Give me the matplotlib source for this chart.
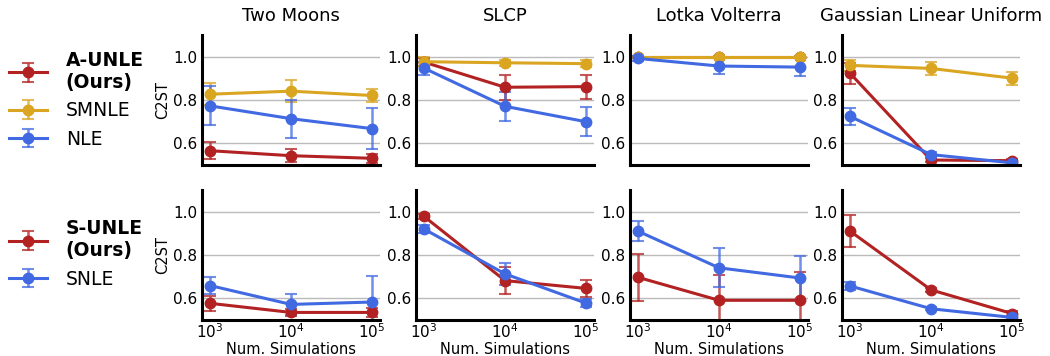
import numpy as np
import matplotlib
matplotlib.use("Agg")
import matplotlib.pyplot as plt

sims = [1e3, 1e4, 1e5]
tasks = ["Two Moons", "SLCP", "Lotka Volterra", "Gaussian Linear Uniform"]

# top row: amortized methods (mean, err) per task
aunle_mean = [[0.566, 0.543, 0.531], [0.975, 0.859, 0.862], [1.0, 1.0, 1.0], [0.923, 0.523, 0.520]]
aunle_err = [[0.04, 0.03, 0.02], [0.02, 0.058, 0.055], [0.005, 0.005, 0.005], [0.05, 0.01, 0.01]]
smnle_mean = [[0.827, 0.841, 0.821], [0.977, 0.972, 0.968], [1.0, 1.0, 1.0], [0.960, 0.946, 0.901]]
smnle_err = [[0.05, 0.05, 0.03], [0.02, 0.015, 0.015], [0.005, 0.005, 0.005], [0.025, 0.03, 0.03]]
nle_mean = [[0.773, 0.714, 0.668], [0.947, 0.771, 0.700], [0.992, 0.957, 0.952], [0.724, 0.548, 0.510]]
nle_err = [[0.09, 0.087, 0.094], [0.03, 0.068, 0.068], [0.01, 0.035, 0.04], [0.04, 0.012, 0.008]]

# bottom row: sequential methods
sunle_mean = [[0.577, 0.535, 0.535], [0.978, 0.682, 0.646], [0.697, 0.591, 0.591], [0.910, 0.639, 0.530]]
sunle_err = [[0.035, 0.015, 0.02], [0.01, 0.062, 0.04], [0.11, 0.116, 0.13], [0.075, 0.01, 0.01]]
snle_mean = [[0.659, 0.572, 0.583], [0.920, 0.713, 0.578], [0.910, 0.741, 0.694], [0.657, 0.552, 0.512]]
snle_err = [[0.04, 0.05, 0.12], [0.02, 0.05, 0.02], [0.045, 0.09, 0.1], [0.02, 0.006, 0.006]]

RED = "#b22222"
GOLD = "#daa520"
BLUE = "#4169e1"

fig = plt.figure(figsize=(10.5, 3.56), dpi=100)

lefts = [0.1924, 0.3962, 0.6, 0.802]
w, h = 0.1695, 0.365
bottoms = [0.5365, 0.1011]


def draw(ax, mean, err, color, label):
    return ax.errorbar(sims, mean, yerr=err, color=color, lw=2.2, marker="o",
                       markersize=7.5, capsize=4, elinewidth=1.8, capthick=1.5,
                       ecolor=matplotlib.colors.to_rgba(color, 0.75), label=label)


def style(ax, bottom_row, first_col):
    ax.set_xscale("log")
    ax.set_xlim(10 ** 2.9, 10 ** 5.1)
    ax.set_ylim(0.5, 1.1)
    ax.set_yticks([0.6, 0.8, 1.0])
    ax.set_yticklabels(["0.6", "0.8", "1.0"])
    ax.set_xticks(sims)
    ax.xaxis.set_minor_locator(matplotlib.ticker.NullLocator())
    if bottom_row:
        ax.set_xticklabels([r"$10^3$", r"$10^4$", r"$10^5$"])
        ax.set_xlabel("Num. Simulations", fontsize=10.5, labelpad=0.5)
    else:
        ax.set_xticklabels([])
    if first_col:
        ax.set_ylabel("C2ST", fontsize=10.5, labelpad=2)
    ax.tick_params(axis="y", length=0, labelsize=11, pad=3.5)
    ax.tick_params(axis="x", length=0, labelsize=11, pad=2)
    ax.grid(axis="y", color="#bbbbbb", lw=1)
    ax.set_axisbelow(True)
    for s in ["top", "right"]:
        ax.spines[s].set_visible(False)
    for s in ["left", "bottom"]:
        ax.spines[s].set_linewidth(2.2)
        ax.spines[s].set_color("black")


top_handles = None
bot_handles = None
for i, task in enumerate(tasks):
    ax = fig.add_axes([lefts[i], bottoms[0], w, h])
    h1 = draw(ax, aunle_mean[i], aunle_err[i], RED, "A-UNLE\n(Ours)")
    h2 = draw(ax, smnle_mean[i], smnle_err[i], GOLD, "SMNLE")
    h3 = draw(ax, nle_mean[i], nle_err[i], BLUE, "NLE")
    style(ax, False, i == 0)
    ax.set_title(task, fontsize=13, pad=10)
    if i == 0:
        top_handles = [h1, h2, h3]

    ax = fig.add_axes([lefts[i], bottoms[1], w, h])
    g1 = draw(ax, sunle_mean[i], sunle_err[i], RED, "S-UNLE\n(Ours)")
    g2 = draw(ax, snle_mean[i], snle_err[i], BLUE, "SNLE")
    style(ax, True, i == 0)
    if i == 0:
        bot_handles = [g1, g2]

leg1 = fig.legend(handles=top_handles, loc="center left", bbox_to_anchor=(0.0, 0.72),
                  frameon=False, fontsize=13.5, handlelength=2.0, borderaxespad=0.1,
                  handletextpad=1.0)
leg1.get_texts()[0].set_fontweight("bold")
leg2 = fig.legend(handles=bot_handles, loc="center left", bbox_to_anchor=(0.0, 0.287),
                  frameon=False, fontsize=13.5, handlelength=2.0, borderaxespad=0.1,
                  handletextpad=1.0)
leg2.get_texts()[0].set_fontweight("bold")

fig.savefig("out.png", dpi=100)
